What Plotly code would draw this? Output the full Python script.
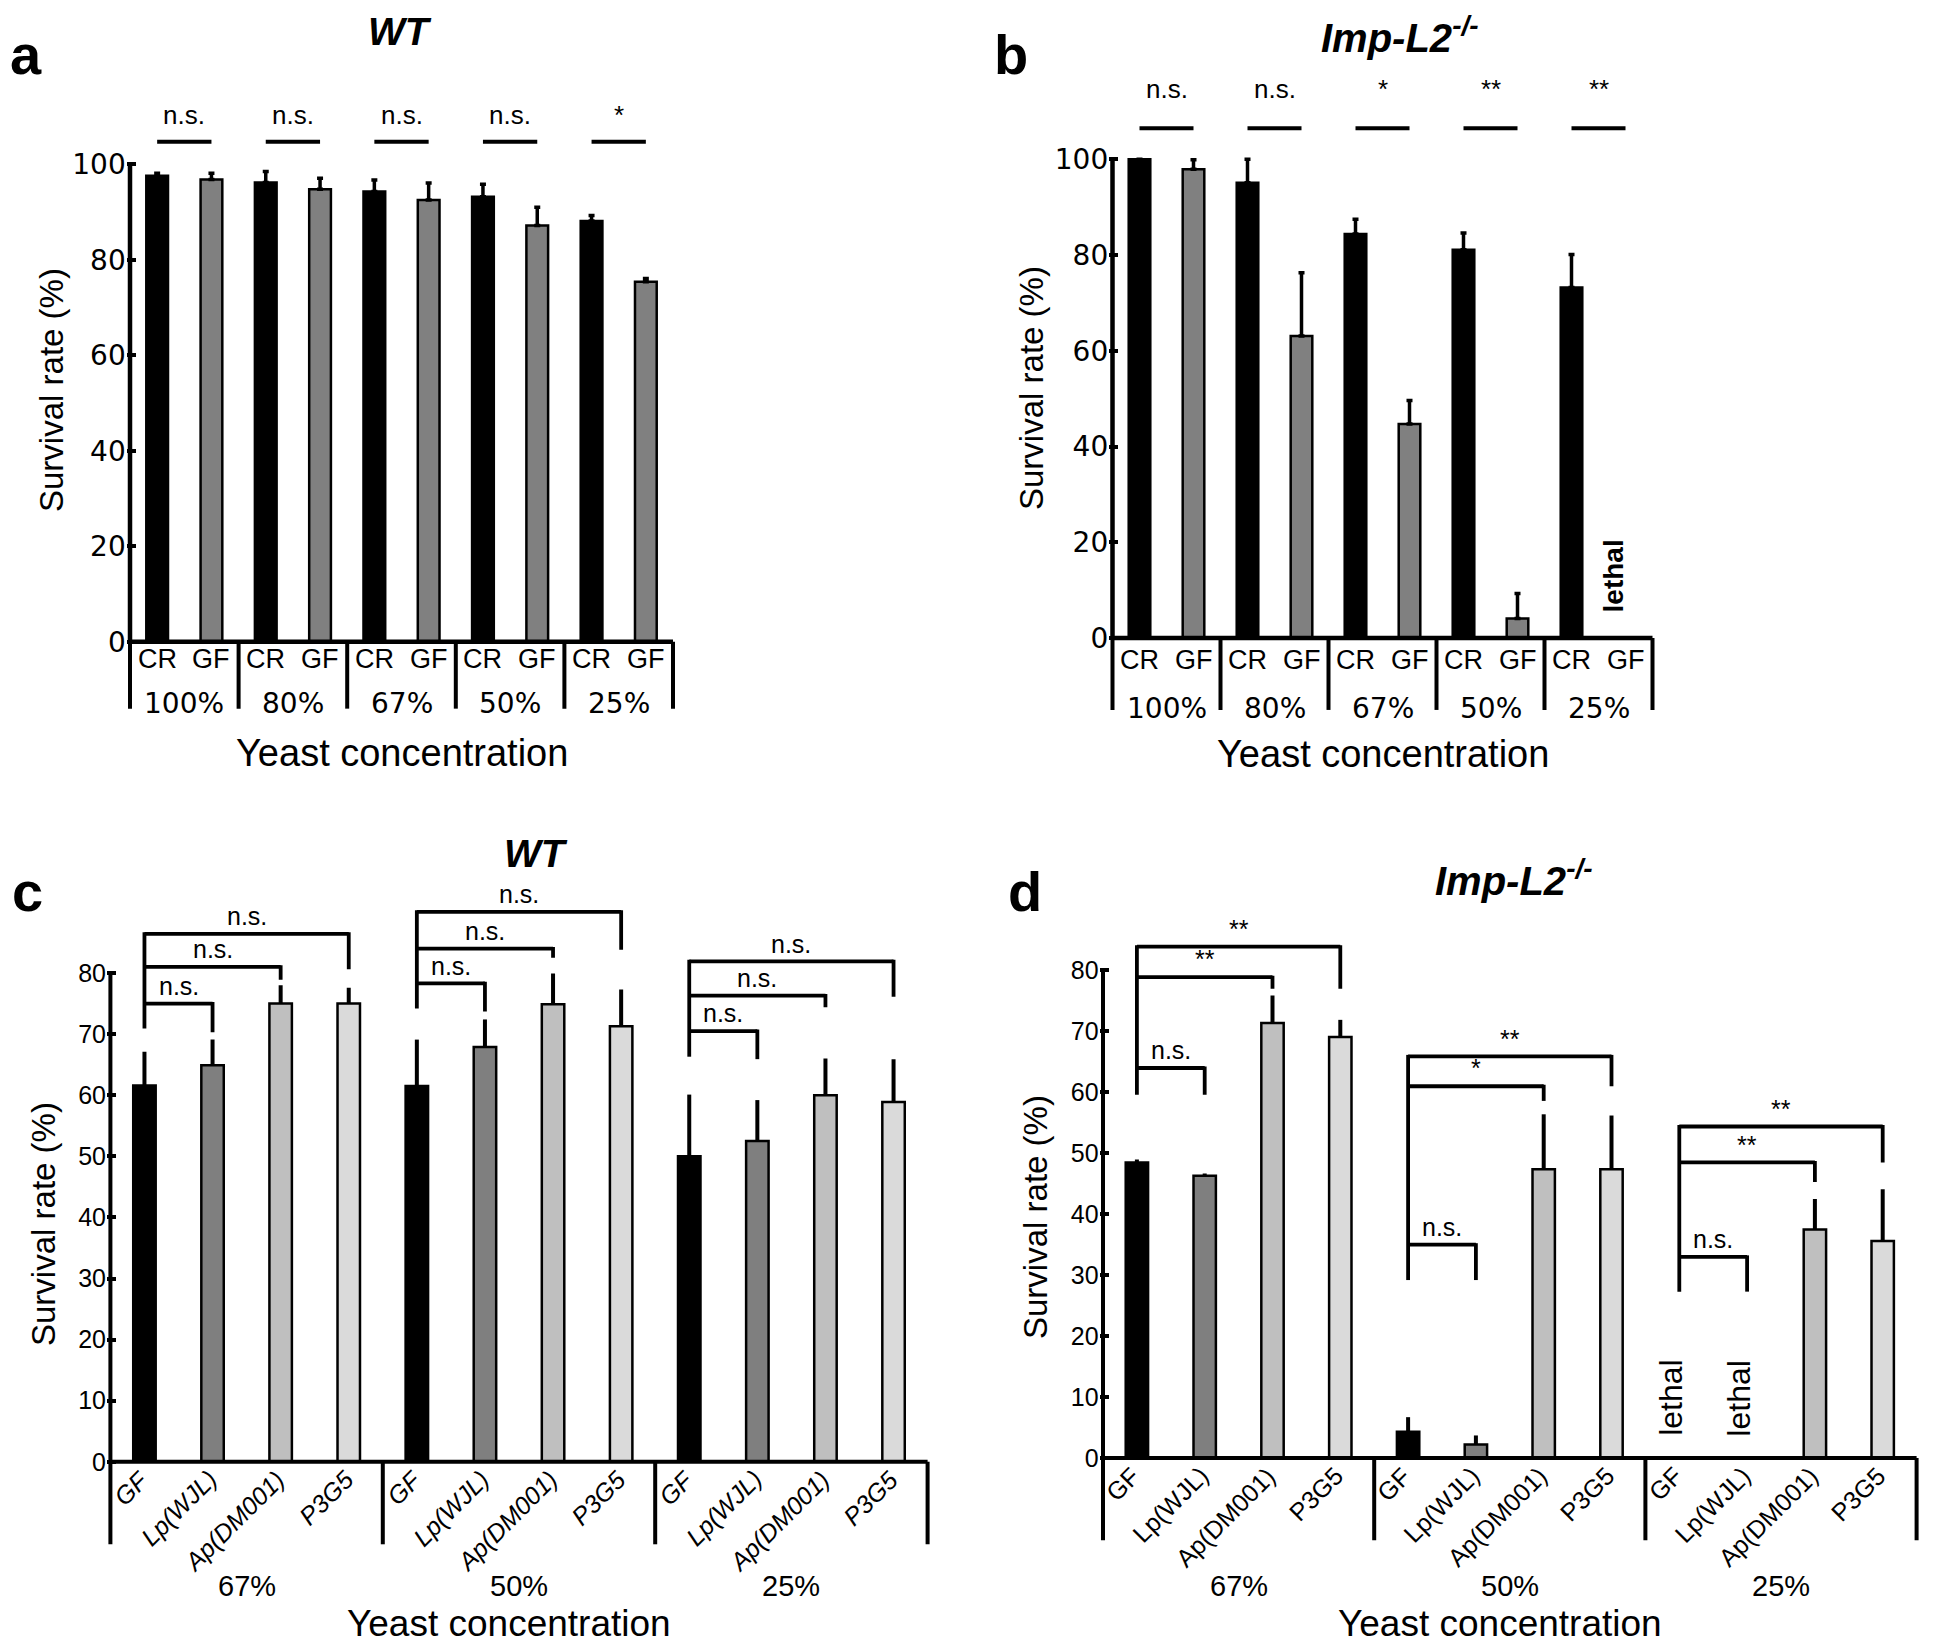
import plotly.graph_objects as go

W, H = 1945, 1641

# ---------------- data: panels a / b ----------------
ab_concentrations = ["100%", "80%", "67%", "50%", "25%"]
ab_conditions = ["CR", "GF"]

a_cr = [97.6, 96.2, 94.3, 93.2, 88.1]
a_cr_err = [0.5, 2.3, 2.4, 2.6, 1.2]
a_gf = [96.8, 94.8, 92.5, 87.2, 75.4]
a_gf_err = [1.3, 2.3, 3.6, 3.8, 0.7]
a_sig = ["n.s.", "n.s.", "n.s.", "n.s.", "*"]

b_cr = [100.0, 95.1, 84.4, 81.1, 73.2]
b_cr_err = [0.0, 4.9, 3.1, 3.5, 6.9]
b_gf = [97.9, 63.1, 44.7, 4.1, None]          # 25%: lethal
b_gf_err = [2.0, 13.2, 4.9, 5.2, 0.0]
b_sig = ["n.s.", "n.s.", "*", "**", "**"]

# ---------------- data: panels c / d ----------------
cd_concentrations = ["67%", "50%", "25%"]
cd_strains = ["GF", "Lp(WJL)", "Ap(DM001)", "P3G5"]

c_gf = [61.6, 61.5, 50.0]
c_gf_err = [5.5, 7.6, 10.1]
c_lp = [64.9, 67.9, 52.5]
c_lp_err = [4.2, 4.5, 6.7]
c_ap = [75.0, 74.9, 60.0]
c_ap_err = [3.0, 5.0, 6.0]
c_p3 = [75.0, 71.3, 58.9]
c_p3_err = [2.6, 6.0, 7.0]

d_gf = [48.5, 4.3, None]                        # 25%: lethal
d_gf_err = [0.5, 2.4, 0.0]
d_lp = [46.3, 2.2, None]                        # 25%: lethal
d_lp_err = [0.4, 1.5, 0.0]
d_ap = [71.4, 47.4, 37.5]
d_ap_err = [4.5, 9.0, 5.0]
d_p3 = [69.1, 47.4, 35.6]
d_p3_err = [2.8, 8.8, 8.5]

# significance brackets (vs GF): levels, right-leg bottoms, left-leg bottom, labels
c_brk_level = [[75.0, 81.0, 86.4], [78.3, 84.0, 90.0], [70.5, 76.3, 81.9]]
c_brk_leg = [[70.3, 78.9, 80.6], [73.7, 82.5, 83.8], [65.9, 74.4, 76.1]]
c_brk_base = [70.9, 74.2, 66.3]
c_brk_label = [["n.s.", "n.s.", "n.s."], ["n.s.", "n.s.", "n.s."], ["n.s.", "n.s.", "n.s."]]

d_brk_level = [[64.0, 78.9, 83.9], [35.0, 61.0, 65.9], [33.0, 48.5, 54.4]]
d_brk_leg = [[59.6, 77.0, 77.0], [29.2, 58.6, 61.0], [27.3, 45.3, 48.5]]
d_brk_base = [59.6, 29.2, 27.3]
d_brk_label = [["n.s.", "**", "**"], ["n.s.", "*", "**"], ["n.s.", "**", "**"]]

# ---------------- styles ----------------
BLACK = "#000000"
GRAY_AB = "#808080"
C_GF, C_LP, C_AP, C_P3 = "#000000", "#7f7f7f", "#bfbfbf", "#dadada"
ARIAL = "Liberation Sans, Arial, sans-serif"
NARROW = "Liberation Sans Narrow, Arial Narrow, Liberation Sans, Arial, sans-serif"
WIDE = "DejaVu Sans, Verdana, sans-serif"

# panel geometry (pixel of value 0 and pixels per unit)
panels = {
    "a": dict(n="", x0=122.0, ux=108.6, y0=633.8, uy=4.775, xr=[-0.03, 5.03], yr=[-27.0, 114.0],
              yt=[0, 20, 40, 60, 80, 100]),
    "b": dict(n="2", x0=1104.5, ux=108.0, y0=630.1, uy=4.788, xr=[-0.03, 5.03], yr=[-27.5, 117.0],
              yt=[0, 20, 40, 60, 80, 100]),
    "c": dict(n="3", x0=102.4, ux=68.1, y0=1453.8, uy=6.11, xr=[-0.05, 12.05], yr=[-29.0, 92.0],
              yt=list(range(0, 90, 10))),
    "d": dict(n="4", x0=1095.0, ux=67.8, y0=1450.0, uy=6.094, xr=[-0.05, 12.05], yr=[-29.0, 86.0],
              yt=list(range(0, 90, 10))),
}

fig = go.Figure()
shapes = []
annotations = []
layout_axes = {}

for key, p in panels.items():
    n = p["n"]
    xd = [(p["x0"] + p["xr"][0] * p["ux"]) / W, (p["x0"] + p["xr"][1] * p["ux"]) / W]
    top = p["y0"] - p["yr"][1] * p["uy"]
    bot = p["y0"] - p["yr"][0] * p["uy"]
    yd = [max(0.0, 1 - bot / H), min(1.0, 1 - top / H)]
    ab = key in ("a", "b")
    layout_axes["xaxis" + n] = dict(domain=xd, range=p["xr"], visible=False, anchor="y" + n,
                                    fixedrange=True)
    layout_axes["yaxis" + n] = dict(
        domain=yd, range=p["yr"], anchor="x" + n, showline=False, showgrid=False, zeroline=False,
        ticks="inside", ticklen=9, tickwidth=3.5, tickcolor=BLACK, tickvals=p["yt"],
        ticktext=[str(v) for v in p["yt"]],
        tickfont=dict(family=WIDE if ab else ARIAL, size=28 if ab else 25, color=BLACK),
        fixedrange=True)


def ref(n):
    return "x" + n, "y" + n


def line(n, x0, y0, x1, y1, w=4):
    xr_, yr_ = ref(n)
    shapes.append(dict(type="line", xref=xr_, yref=yr_, x0=x0, y0=y0, x1=x1, y1=y1,
                       line=dict(color=BLACK, width=w)))


def text(n, x, y, s, size, family=ARIAL, angle=0, xanchor="center", yanchor="middle", bold=False):
    xr_, yr_ = ref(n)
    annotations.append(dict(xref=xr_, yref=yr_, x=x, y=y, text=("<b>%s</b>" % s) if bold else s,
                            showarrow=False, textangle=angle, xanchor=xanchor, yanchor=yanchor,
                            font=dict(family=family, size=size, color=BLACK)))


def ptext(px, py, s, size, family=ARIAL, angle=0, xanchor="center", yanchor="middle"):
    annotations.append(dict(xref="paper", yref="paper", x=px / W, y=1 - py / H, text=s,
                            showarrow=False, textangle=angle, xanchor=xanchor, yanchor=yanchor,
                            font=dict(family=family, size=size, color=BLACK)))


def err(arr, th, cap):
    return dict(type="data", array=arr, arrayminus=[0] * len(arr), symmetric=False,
                color=BLACK, thickness=th, width=cap, visible=True)


# ---------------- panels a & b ----------------
for key, cr, cre, gf, gfe, sig, sig_y, txt_y, lab_y, pct_y, yc_y in [
    ("a", a_cr, a_cr_err, a_gf, a_gf_err, a_sig, 104.7, 110.4, -3.5, -13.0, -23.2),
    ("b", b_cr, b_cr_err, b_gf, b_gf_err, b_sig, 106.5, 114.6, -4.5, -14.8, -24.2),
]:
    n = panels[key]["n"]
    xa, ya = ref(n)
    ng = len(ab_concentrations)
    x_cr = [g + 0.25 for g in range(ng)]
    x_gf = [g + 0.75 for g in range(ng)]
    fig.add_trace(go.Bar(x=x_cr, y=cr, width=0.2, xaxis=xa, yaxis=ya, name="CR",
                         marker=dict(color=BLACK, line=dict(color=BLACK, width=2.5)),
                         error_y=err(cre, 3.5, 3)))
    fig.add_trace(go.Bar(x=x_gf, y=gf, width=0.2, xaxis=xa, yaxis=ya, name="GF",
                         marker=dict(color=GRAY_AB, line=dict(color=BLACK, width=2.5)),
                         error_y=err(gfe, 3.5, 3)))
    # axes
    line(n, 0, 0, ng, 0, 4.5)
    line(n, 0, 0, 0, 100, 4.5)
    bottom = -14.0 if key == "a" else -15.0
    for g in range(ng + 1):
        line(n, g, 0, g, bottom, 4)
    for g in range(ng):
        text(n, x_cr[g], lab_y, ab_conditions[0], 27, NARROW)
        text(n, x_gf[g], lab_y, ab_conditions[1], 27, NARROW)
        text(n, g + 0.5, pct_y, ab_concentrations[g], 28, WIDE)
        line(n, x_cr[g], sig_y, x_gf[g], sig_y, 4)
        text(n, g + 0.5, txt_y, sig[g], 26, NARROW)
    text(n, ng / 2, yc_y, "Yeast concentration", 38, ARIAL)

# lethal label in b
text(panels["b"]["n"], 4.64, 13.0, "lethal", 28, ARIAL, angle=-90, bold=True)

# ---------------- panels c & d ----------------
cd_colors = [C_GF, C_LP, C_AP, C_P3]
for key, series, errs, lvls, legs, bases, labels, pct_y, yc_y, ital, lab_dx in [
    ("c", [c_gf, c_lp, c_ap, c_p3], [c_gf_err, c_lp_err, c_ap_err, c_p3_err],
     c_brk_level, c_brk_leg, c_brk_base, c_brk_label, -20.3, -26.5, True, 0.18),
    ("d", [d_gf, d_lp, d_ap, d_p3], [d_gf_err, d_lp_err, d_ap_err, d_p3_err],
     d_brk_level, d_brk_leg, d_brk_base, d_brk_label, -21.0, -27.1, False, 0.16),
]:
    n = panels[key]["n"]
    xa, ya = ref(n)
    ng = len(cd_concentrations)
    ns = len(cd_strains)
    for s in range(ns):
        xs = [g * ns + s + 0.5 for g in range(ng)]
        fig.add_trace(go.Bar(x=xs, y=series[s], width=0.33, xaxis=xa, yaxis=ya, name=cd_strains[s],
                             marker=dict(color=cd_colors[s], line=dict(color=BLACK, width=2.5)),
                             error_y=err(errs[s], 4, 0)))
    line(n, 0, 0, ng * ns, 0, 4)
    line(n, 0, 0, 0, 80, 4)
    for g in range(ng + 1):
        line(n, g * ns, 0, g * ns, -13.5, 4)
    for g in range(ng):
        for s in range(ns):
            lbl = "<i>%s</i>" % cd_strains[s] if ital else cd_strains[s]
            text(n, g * ns + s + 0.5 + lab_dx, -0.1, lbl, 25, ARIAL, angle=-45,
                 xanchor="right", yanchor="top")
        text(n, g * ns + ns / 2, pct_y, cd_concentrations[g], 29, ARIAL)
        # brackets
        xg = g * ns + 0.5
        line(n, xg, max(lvls[g]) + 0.25, xg, bases[g], 3.8)
        for k in range(3):
            xr_ = g * ns + k + 1.5
            line(n, xg, lvls[g][k], xr_, lvls[g][k], 3.8)
            line(n, xr_, lvls[g][k] + 0.25, xr_, legs[g][k], 3.8)
            text(n, (xg + xr_) / 2, lvls[g][k] + 0.3, labels[g][k], 25, ARIAL, yanchor="bottom")
    text(n, 5.85, yc_y, "Yeast concentration", 37, ARIAL)

# lethal labels in d
text(panels["d"]["n"], 8.38, 9.9, "lethal", 32, ARIAL, angle=-90)
text(panels["d"]["n"], 9.38, 9.9, "lethal", 32, ARIAL, angle=-90)

# ---------------- titles, letters, y titles ----------------
BI = "Liberation Sans, Arial, sans-serif"
ptext(392, 24, "<b><i>WT</i></b>", 39, BI)
ptext(1392, 27, "<b><i>Imp-L2</i></b><sup><b><i>-/-</i></b></sup>", 40, BI)
ptext(528, 845, "<b><i>WT</i></b>", 39, BI)
ptext(1506, 870, "<b><i>Imp-L2</i></b><sup><b><i>-/-</i></b></sup>", 40, BI)

ptext(0, 47, "<b>a</b>", 56, ARIAL, xanchor="left")
ptext(984, 47, "<b>b</b>", 56, ARIAL, xanchor="left")
ptext(2, 883, "<b>c</b>", 56, ARIAL, xanchor="left")
ptext(998, 883, "<b>d</b>", 56, ARIAL, xanchor="left")

ptext(43, 382, "Survival rate (%)", 33, ARIAL, angle=-90)
ptext(1023, 380, "Survival rate (%)", 33, ARIAL, angle=-90)
ptext(35, 1216, "Survival rate (%)", 33, ARIAL, angle=-90)
ptext(1027, 1209, "Survival rate (%)", 33, ARIAL, angle=-90)

fig.update_layout(
    width=W, height=H, autosize=False,
    margin=dict(l=0, r=0, t=0, b=0, pad=0),
    paper_bgcolor="white", plot_bgcolor="white",
    showlegend=False, barmode="overlay",
    shapes=shapes, annotations=annotations,
    **layout_axes,
)

fig.write_html("out.html")
